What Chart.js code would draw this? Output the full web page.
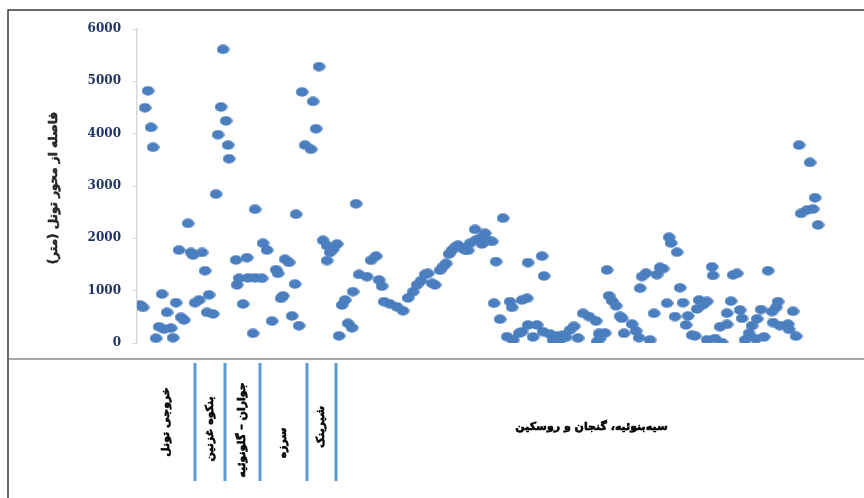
<!DOCTYPE html>
<html lang="fa">
<head>
<meta charset="UTF-8">
<title>فاصله از محور تونل</title>
<style>
    body { margin: 0; background: #fff; }
    #wrap { width: 864px; height: 498px; position: relative; }
    #baseline { position: absolute; left: 9px; top: 358px; width: 855px; height: 2px; background: #a8a8a8; }
</style>
</head>
<body>
<div id="wrap"><canvas id="tunnelChart" width="864" height="498"></canvas><div id="baseline"></div></div>

<script src="https://cdn.jsdelivr.net/npm/chart.js"></script>
<script>
    // chainage along the tunnel (chart units) and distance from tunnel axis (m)
    const station = [
        3, 6, 8, 11, 14, 16, 19, 22, 25, 27, 30, 34, 36, 39, 42, 44, 47, 51, 54, 56,
        58, 62, 65, 68, 70, 72, 76, 79, 81, 84, 86, 89, 91, 92,
        99, 100, 102, 106, 110, 111, 116, 118, 118, 125, 126, 130,
        135, 139, 141, 144, 146, 148, 152, 155, 158, 159, 162, 165, 168, 174, 176, 179, 182,
        186, 190, 190, 193, 196, 200,
        202, 205, 208, 211, 215, 216, 219, 222, 230, 234, 239, 242, 245, 247, 253, 260, 266,
        271, 276, 280, 284, 288, 291, 295, 298, 303, 306, 309, 312, 315, 318, 321, 325, 328,
        331, 333, 338, 339, 343, 345, 348, 350, 355, 357, 359, 363, 366, 370, 373, 375, 376,
        382, 385, 385, 390, 391, 391, 396, 400, 405, 406, 407, 413, 416, 420, 423, 426, 429,
        433, 437, 441, 446, 452, 459, 460, 462, 463, 468, 470, 472, 475, 479, 483, 485, 487,
        495, 499, 502, 503, 505, 509, 513, 517, 520, 523, 526, 530, 532, 534, 538, 540, 543,
        546, 549, 551, 555, 558, 560, 562, 566, 570, 570, 575, 576, 578, 583, 585, 590, 590,
        594, 596, 600, 603, 605, 608, 612, 615, 619, 620, 624, 627, 631, 635, 636, 639, 641,
        643, 651, 652, 656, 659, 662, 664, 670, 673, 676, 678, 681
    ];
    const distance = [
        725, 680, 4495, 4820, 4120, 3740, 90, 310, 935, 265, 585, 285, 100, 770, 1775, 490, 440, 2285, 1730, 1680,
        770, 820, 1730, 1380, 585, 920, 555, 2845, 3980, 4510, 5610, 4245, 3780, 3520,
        1585, 1110, 1235, 745, 1630, 1245, 185, 2555, 1245, 1235, 1905, 1775,
        420, 1400, 1330, 855, 900, 1600, 1540, 515, 1125, 2460, 330, 4795, 3780, 3700, 4615, 4095, 5280,
        1960, 1860, 1575, 1730, 1790, 1890,
        135, 725, 820, 375, 290, 980, 2660, 1310, 1265, 1580, 1660, 1205, 1085, 790, 745, 690, 615,
        860, 980, 1110, 1190, 1310, 1330, 1140, 1110, 1390, 1460, 1520, 1700, 1775, 1830, 1870, 1820, 1775,
        1770, 1905, 2170, 1965, 2000, 1890, 2095, 1965, 1940, 760, 1555, 455, 2385, 120, 790, 680, 55,
        185, 215, 820, 855, 1535, 345, 115, 345, 1660, 215, 1280, 170, 55, 130, 55, 150, 110,
        250, 320, 95, 565, 505, 420, 25, 185, 90, 190, 1395, 900, 805, 710, 510, 470, 185,
        360, 230, 100, 1045, 1270, 1335, 55, 565, 1305, 1445, 1420, 760, 2020, 1910, 505, 1735, 1055,
        770, 345, 515, 150, 135, 650, 820, 730, 795, 60, 1455, 1290, 85, 310, 5, 355, 570,
        800, 1300, 1330, 630, 470, 55, 185, 330, 80, 460, 640, 115, 1380, 600, 390, 680, 790,
        330, 360, 260, 605, 130, 3780, 2475, 2540, 3450, 2560, 2775, 2255
    ];

    // geological sections along the route, separated by the blue markers
    const sectionBreaks = [58, 88, 123, 170, 199];
    const sectionNames = [
        'خروجی تونل',
        'بنکوه غزنین',
        'جواران – گلونوئیه',
        'سرزه',
        'شیرینک',
        'سیه‌بنوئیه، گنجان و روسکین'
    ];
    const yTitle = 'فاصله از محور تونل (متر)\u200F';
    const stationMax = 710;
    const yTicks = [0, 1000, 2000, 3000, 4000, 5000, 6000];

    const points = station.map((s, i) => ({ x: s, y: distance[i] }));

    // slightly flattened dot used as the marker
    const dot = document.createElement('canvas');
    dot.width = 13;
    dot.height = 10;
    const dctx = dot.getContext('2d');
    dctx.fillStyle = '#4a7ebf';
    dctx.beginPath();
    dctx.ellipse(6.5, 5, 6.3, 4.7, 0, 0, Math.PI * 2);
    dctx.fill();

    const arabicFont = '"DejaVu Sans", sans-serif';

    // heavy text: fill plus a thin outline of the same colour
    function heavyText(ctx, text, x, y, rotate) {
        ctx.save();
        ctx.translate(x, y);
        if (rotate) ctx.rotate(-Math.PI / 2);
        ctx.fillText(text, 0, 0);
        ctx.strokeText(text, 0, 0);
        ctx.restore();
    }

    // frame, axis title, section markers and their names
    const sectionBand = {
        id: 'sectionBand',
        afterDraw(chart) {
            const ctx = chart.ctx;
            const xs = chart.scales.x;
            const area = chart.chartArea;
            ctx.save();

            ctx.strokeStyle = '#3a3a3a';
            ctx.lineWidth = 1.5;
            ctx.beginPath();
            ctx.moveTo(8, 498);
            ctx.lineTo(8, 10);
            ctx.lineTo(864, 10);
            ctx.stroke();

            ctx.strokeStyle = '#5b9bd5';
            ctx.lineWidth = 3;
            sectionBreaks.forEach(b => {
                const px = Math.round(xs.getPixelForValue(b));
                ctx.beginPath();
                ctx.moveTo(px, 363);
                ctx.lineTo(px, 481);
                ctx.stroke();
            });

            ctx.direction = 'rtl';
            ctx.textAlign = 'center';
            ctx.textBaseline = 'middle';
            ctx.lineWidth = 0.6;

            ctx.fillStyle = '#262626';
            ctx.strokeStyle = '#262626';
            ctx.font = 'bold 12px ' + arabicFont;
            heavyText(ctx, yTitle, 54, (area.top + area.bottom) / 2 + 2, true);

            const edges = [0, ...sectionBreaks, stationMax];
            const labelY = [422, 429, 430, 443, 427, 427];
            ctx.fillStyle = '#000';
            ctx.strokeStyle = '#000';
            ctx.font = 'bold 11px ' + arabicFont;
            sectionNames.forEach((name, i) => {
                const mid = (edges[i] + edges[i + 1]) / 2;
                heavyText(ctx, name, xs.getPixelForValue(mid), labelY[i], i < sectionNames.length - 1);
            });
            ctx.restore();
        }
    };

    new Chart(document.getElementById('tunnelChart'), {
        type: 'scatter',
        data: {
            datasets: [{
                data: points,
                pointStyle: dot,
                pointRadius: 6,
                pointHoverRadius: 6
            }]
        },
        options: {
            responsive: false,
            animation: false,
            layout: { padding: { top: 29, bottom: 155, left: 41, right: 17 } },
            plugins: { legend: { display: false }, tooltip: { enabled: false } },
            scales: {
                x: {
                    type: 'linear',
                    display: false,
                    min: 0,
                    max: stationMax
                },
                y: {
                    min: yTicks[0],
                    max: yTicks[yTicks.length - 1],
                    afterFit(scale) { scale.width = 96; },
                    afterBuildTicks(scale) { scale.ticks = yTicks.map(v => ({ value: v })); },
                    border: { display: true, color: '#d9d9d9', width: 1.5 },
                    grid: { drawOnChartArea: false, drawTicks: true, tickLength: 5, color: '#d9d9d9' },
                    ticks: {
                        padding: 11,
                        color: '#1f3566',
                        font: { family: '"DejaVu Serif", serif', weight: 'bold', size: 12 },
                        callback: v => String(v)
                    },
                    title: { display: false }
                }
            }
        },
        plugins: [sectionBand]
    });
</script>
</body>
</html>
